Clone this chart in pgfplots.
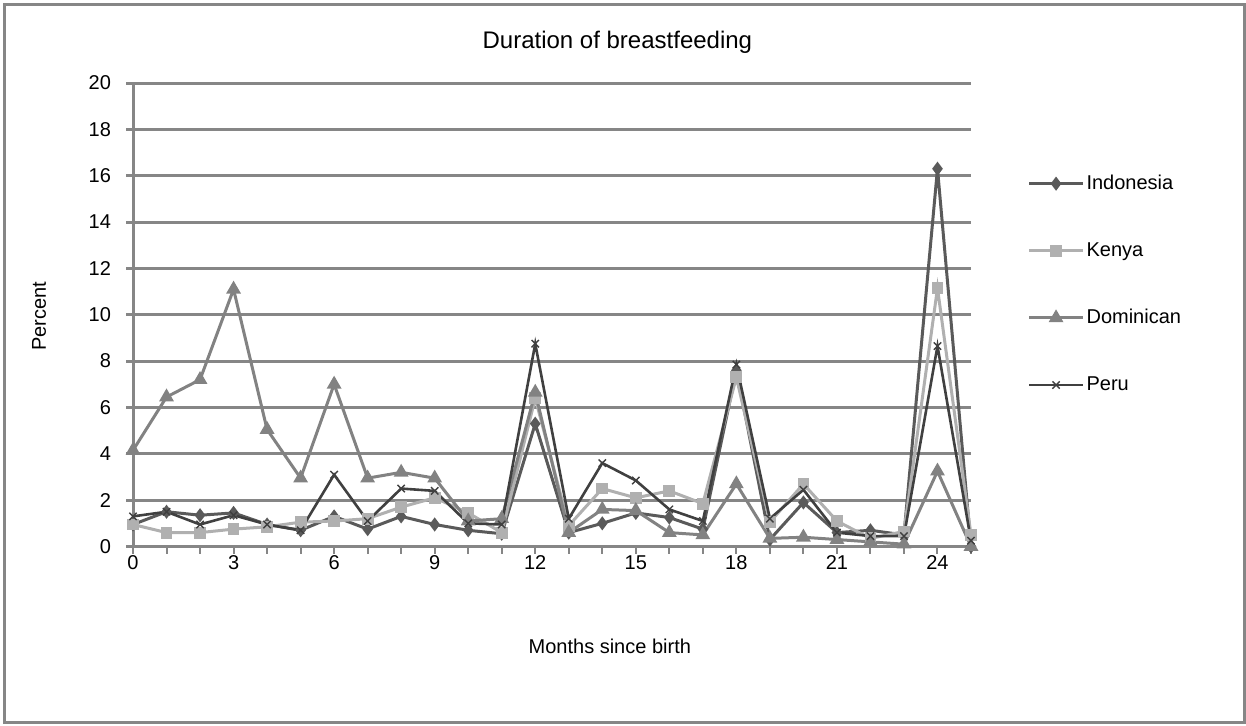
\documentclass[border=0pt]{standalone}
\usepackage{pgfplots}
\pgfplotsset{compat=1.18}
\usepackage{pgfplotstable}
\usepackage{fontspec}
\setmainfont{Liberation Sans}
\definecolor{indo}{HTML}{5A5A5A}
\definecolor{kenya}{HTML}{B0B0B0}
\definecolor{domin}{HTML}{828282}
\definecolor{peru}{HTML}{404040}
\definecolor{gridc}{HTML}{868686}
\pgfplotstableread{
x indo kenya domin peru
0 0.95 0.95 4.15 1.3
1 1.5 0.6 6.45 1.5
2 1.35 0.6 7.2 0.95
3 1.45 0.75 11.1 1.35
4 0.95 0.85 5.05 0.95
5 0.7 1.05 2.95 0.7
6 1.3 1.1 7.0 3.1
7 0.75 1.2 2.95 1.1
8 1.3 1.7 3.2 2.5
9 0.95 2.1 2.95 2.4
10 0.7 1.45 1.1 1.0
11 0.55 0.6 1.2 0.95
12 5.3 6.4 6.65 8.75
13 0.6 0.9 0.6 1.2
14 1.0 2.5 1.6 3.6
15 1.45 2.1 1.55 2.85
16 1.25 2.4 0.6 1.6
17 0.75 1.85 0.5 1.1
18 7.6 7.3 2.7 7.85
19 0.3 1.05 0.35 1.2
20 1.9 2.7 0.4 2.45
21 0.6 1.1 0.3 0.6
22 0.7 0.35 0.2 0.45
23 0.5 0.65 0.1 0.45
24 16.3 11.15 3.25 8.65
25 0.0 0.5 0.0 0.25
}\datatable
\begin{document}
\begin{tikzpicture}
\useasboundingbox (0,0) rectangle (623pt,362.5pt);
\draw[gridc, line width=1.5pt] (2.25pt,1.1pt) rectangle (622pt,360.25pt);
\begin{axis}[
  at={(66.5pt,89.25pt)}, anchor=south west,
  scale only axis, width=419pt, height=231.75pt,
  xmin=0, xmax=25, ymin=0, ymax=20,
  xtick={0,1,...,25},
  xticklabels={0,,,3,,,6,,,9,,,12,,,15,,,18,,,21,,,24,},
  ytick={0,2,...,20},
  axis lines*=left,
  axis line style={gridc, line width=1.5pt},
  ymajorgrids,
  grid style={gridc, line width=1.5pt},
  tick align=outside,
  tick style={gridc, line width=1.5pt},
  x tick style={line width=1pt},
  major tick length=3.5pt,
  /pgf/number format/assume math mode=true,
  ticklabel style={font=\fontsize{10}{12}\selectfont},
  xticklabel style={yshift=2.5pt},
  yticklabel style={xshift=-4pt},
  title={Duration of breastfeeding},
  title style={at={(axis description cs:0.578,1.063)}, anchor=center, font=\fontsize{12}{14}\selectfont},
  xlabel={Months since birth},
  xlabel style={at={(axis description cs:0.569,-0.216)}, anchor=center, font=\fontsize{10}{12}\selectfont},
  ylabel={Percent},
  ylabel style={at={(axis description cs:-0.112,0.497)}, anchor=center, rotate=0, font=\fontsize{10}{12}\selectfont},
  legend style={draw=none, fill=none, at={(axis description cs:1.067,0.566)}, anchor=west,
    inner sep=0pt, row sep=23pt, font=\fontsize{10}{12}\selectfont,
    nodes={inner sep=1pt}},
  legend cell align=left,
  legend image code/.code={\draw[mark repeat=2,mark phase=2] plot coordinates {(0pt,0pt) (13.5pt,0pt) (27pt,0pt)};},
  clip=false,
]
\addplot[indo, line width=1.5pt, mark=diamond*, mark size=2.3pt, mark options={solid}] table[x=x,y=indo]{\datatable};
\addlegendentry{Indonesia}
\addplot[kenya, line width=1.5pt, mark=square*, mark size=2.2pt, mark options={solid}] table[x=x,y=kenya]{\datatable};
\addlegendentry{Kenya}
\addplot[domin, line width=1.5pt, mark=triangle*, mark size=2.8pt, mark options={solid}] table[x=x,y=domin]{\datatable};
\addlegendentry{Dominican}
\addplot[peru, line width=1.3pt, mark=x, mark size=2.6pt, mark options={solid, line width=0.7pt}] table[x=x,y=peru]{\datatable};
\addlegendentry{Peru}
\end{axis}
\end{tikzpicture}
\end{document}
